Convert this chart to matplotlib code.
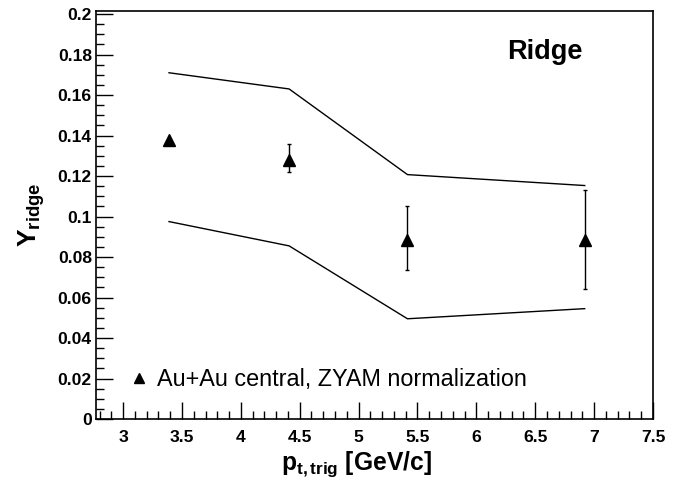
import matplotlib
matplotlib.use('Agg')
import matplotlib.pyplot as plt
from matplotlib.lines import Line2D
from matplotlib.ticker import MultipleLocator, FixedFormatter, FixedLocator

plt.rcParams['font.family'] = ['Liberation Sans', 'DejaVu Sans']
plt.rcParams['mathtext.fontset'] = 'custom'
plt.rcParams['mathtext.rm'] = 'Liberation Sans'
plt.rcParams['mathtext.bf'] = 'Liberation Sans:bold'
plt.rcParams['mathtext.it'] = 'Liberation Sans:italic'

# data
pt_trig = [3.39, 4.41, 5.415, 6.92]
y_ridge = [0.138, 0.128, 0.0886, 0.0886]
err_lo = [0.0, 0.006, 0.0148, 0.0242]
err_hi = [0.0, 0.0076, 0.0164, 0.0244]
band_upper = [0.171, 0.163, 0.1207, 0.1153]
band_lower = [0.0975, 0.0855, 0.0495, 0.0545]

xticks = [3, 3.5, 4, 4.5, 5, 5.5, 6, 6.5, 7, 7.5]
xticklabels = ['3', '3.5', '4', '4.5', '5', '5.5', '6', '6.5', '7', '7.5']
yticks = [0, 0.02, 0.04, 0.06, 0.08, 0.1, 0.12, 0.14, 0.16, 0.18, 0.2]
yticklabels = ['0', '0.02', '0.04', '0.06', '0.08', '0.1', '0.12', '0.14', '0.16', '0.18', '0.2']

fig = plt.figure(figsize=(6.91, 4.83), dpi=100)
ax = fig.add_axes([96/691, 1 - 419/483, (653-96)/691, (419-11)/483])

ax.plot(pt_trig, band_upper, color='black', lw=1.0)
ax.plot(pt_trig, band_lower, color='black', lw=1.0)
ax.errorbar(pt_trig, y_ridge, yerr=[err_lo, err_hi], fmt='^', color='black',
            ms=8, elinewidth=1.0, capsize=1.6, capthick=1.0)

ax.set_xlim(2.77, 7.5)
ax.set_ylim(0, 0.2015)

ax.xaxis.set_major_locator(FixedLocator(xticks))
ax.xaxis.set_major_formatter(FixedFormatter(xticklabels))
ax.xaxis.set_minor_locator(MultipleLocator(0.1))
ax.yaxis.set_major_locator(FixedLocator(yticks))
ax.yaxis.set_major_formatter(FixedFormatter(yticklabels))
ax.yaxis.set_minor_locator(MultipleLocator(0.005))

ax.tick_params(which='both', direction='in', top=False, right=False, width=1.0)
ax.tick_params(which='major', length=12)
ax.tick_params(which='minor', length=6)
ax.tick_params(axis='x', which='major', pad=8)
ax.tick_params(axis='y', which='major', pad=3)
for lab in ax.get_xticklabels() + ax.get_yticklabels():
    lab.set_fontsize(12.6)
    lab.set_fontweight('bold')
for sp in ax.spines.values():
    sp.set_linewidth(1.2)

ax.set_xlabel(r'$\mathbf{p_{t,trig}}$ [GeV/c]', fontsize=17.7, fontweight='bold')
ax.xaxis.label.set_va('baseline')
ax.xaxis.set_label_coords(0.467, -0.125)
ax.set_ylabel(r'$\mathbf{Y_{ridge}}$', fontsize=19, fontweight='bold', labelpad=8)

ax.text(0.806, 0.882, 'Ridge', transform=ax.transAxes, fontsize=19.5,
        fontweight='bold', ha='center', va='baseline')

proxy = Line2D([], [], marker='^', color='black', ls='none', ms=7)
ax.legend([proxy], ['Au+Au central, ZYAM normalization'], loc='center left',
          bbox_to_anchor=(0.0557, 0.0956), frameon=False, fontsize=16.8,
          handlelength=1.0, handletextpad=0.3, numpoints=1,
          borderaxespad=0, borderpad=0)

fig.savefig('out.png', dpi=100)
